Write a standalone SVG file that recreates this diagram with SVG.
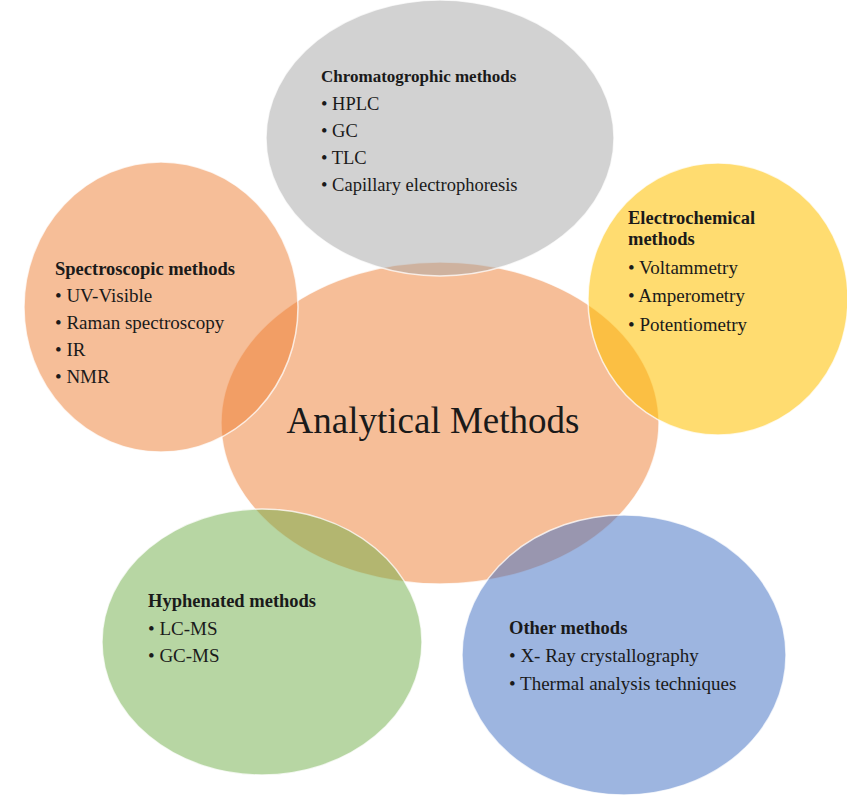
<svg xmlns="http://www.w3.org/2000/svg" width="847" height="796" viewBox="0 0 847 796">
<style>
.shape{stroke:#ffffff;stroke-width:1.5;stroke-opacity:0.75}
.t{font-family:"Liberation Serif","Times New Roman",serif;fill:#1a1a1a}
.h{font-size:18.5px;font-weight:bold}
.i{font-size:19px}
.hc{font-size:17px;font-weight:bold}
.ic{font-size:18.5px}
.big{font-family:"Liberation Serif","Times New Roman",serif;font-size:37px;fill:#1a1a1a}
</style>
<rect width="847" height="796" fill="#ffffff"/>
<g id="center">
<ellipse class="shape" cx="440" cy="423" rx="219" ry="161" fill="#ED7D31" fill-opacity="0.5"/>
<text class="big" x="433" y="433" text-anchor="middle">Analytical Methods</text>
</g>
<g id="chromatographic">
<ellipse class="shape" cx="440" cy="138" rx="174" ry="138" fill="#A5A5A5" fill-opacity="0.5"/>
<text class="t hc" x="321" y="82">Chromatogrophic methods</text>
<text class="t ic" x="321" y="110">• HPLC</text>
<text class="t ic" x="321" y="137">• GC</text>
<text class="t ic" x="321" y="164">• TLC</text>
<text class="t ic" x="321" y="191">• Capillary electrophoresis</text>
</g>
<g id="spectroscopic">
<ellipse class="shape" cx="161" cy="307" rx="137" ry="145" fill="#ED7D31" fill-opacity="0.5"/>
<text class="t h" x="55" y="275">Spectroscopic methods</text>
<text class="t i" x="55" y="302">• UV-Visible</text>
<text class="t i" x="55" y="329">• Raman spectroscopy</text>
<text class="t i" x="55" y="356">• IR</text>
<text class="t i" x="55" y="383">• NMR</text>
</g>
<g id="electrochemical">
<ellipse class="shape" cx="718" cy="299" rx="130" ry="136" fill="#FFC000" fill-opacity="0.56"/>
<text class="t h" x="628" y="224">Electrochemical</text>
<text class="t h" x="628" y="245">methods</text>
<text class="t i" x="628" y="274">• Voltammetry</text>
<text class="t i" x="628" y="302">• Amperometry</text>
<text class="t i" x="628" y="331">• Potentiometry</text>
</g>
<g id="hyphenated">
<ellipse class="shape" cx="262" cy="642" rx="160" ry="133" fill="#70AD47" fill-opacity="0.5"/>
<text class="t h" x="148" y="607">Hyphenated methods</text>
<text class="t i" x="148" y="635">• LC-MS</text>
<text class="t i" x="148" y="662">• GC-MS</text>
</g>
<g id="other">
<ellipse class="shape" cx="624" cy="655" rx="162" ry="140" fill="#4472C4" fill-opacity="0.52"/>
<text class="t h" x="509" y="634">Other methods</text>
<text class="t i" x="509" y="662">• X- Ray crystallography</text>
<text class="t i" x="509" y="690">• Thermal analysis techniques</text>
</g>
<g id="connectors"/>
</svg>
